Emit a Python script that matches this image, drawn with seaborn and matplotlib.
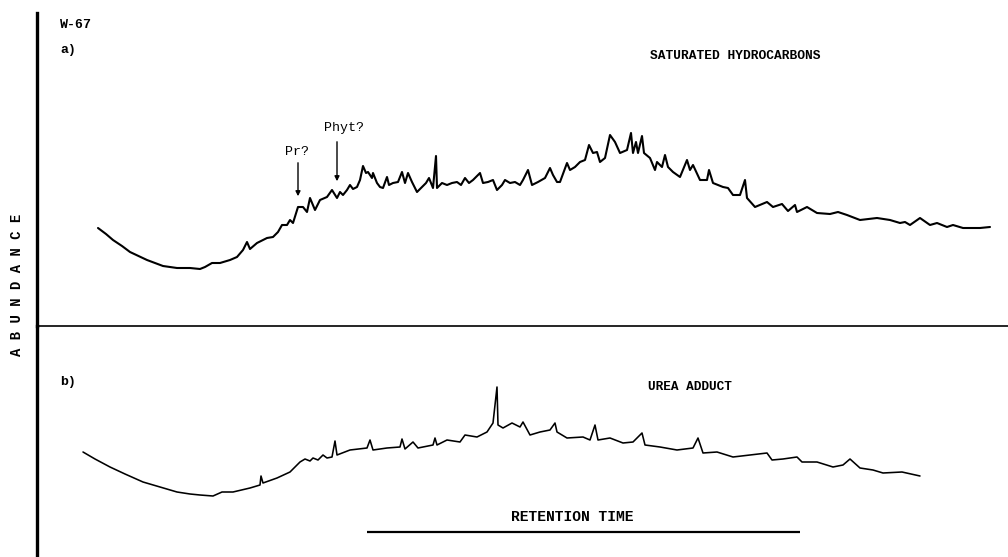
import matplotlib
matplotlib.use("Agg")
import matplotlib.pyplot as plt
import seaborn as sns
import pandas as pd

# ---- data (retention and abundance in arbitrary units)
ret_a = [98, 106, 113, 122, 130, 147, 163, 177, 190, 200, 205, 212, 220, 230, 237, 243, 247, 250, 257, 267,
         273, 278, 282, 287, 290, 293, 298, 303, 307, 310, 315, 320, 327, 332, 337, 340, 343, 347, 350, 353,
         357, 360, 363, 366, 368, 372, 373, 377, 380, 383, 387, 389, 393, 398, 402, 405, 408, 412, 417, 422,
         426, 429, 433, 436, 437, 442, 447, 452, 457, 461, 465, 469, 473, 480, 483, 488, 493, 497, 502, 505,
         510, 515, 520, 523, 528, 532, 538, 545, 550, 553, 557, 560, 567, 570, 575, 580, 585, 589, 593, 597,
         600, 605, 610, 615, 620, 627, 631, 633, 636, 638, 642, 644, 650, 655, 657, 662, 665, 668, 673, 680,
         687, 690, 693, 700, 707, 709, 713, 718, 723, 728, 733, 740, 745, 747, 755, 767, 773, 782, 788, 795,
         797, 807, 817, 830, 838, 847, 860, 877, 890, 900, 905, 910, 920, 930, 937, 947, 953, 963, 980, 990]
abund_a = [98, 92, 86, 80, 74, 66, 60, 58, 58, 57, 59, 63, 63, 66, 69, 76, 84, 77, 83, 88,
           89, 94, 101, 101, 106, 103, 119, 119, 114, 128, 116, 126, 129, 136, 128, 134, 131, 136, 141, 137,
           139, 146, 160, 153, 154, 148, 153, 143, 139, 138, 149, 141, 143, 144, 154, 143, 153, 144, 134, 139,
           143, 148, 138, 170, 138, 143, 141, 143, 144, 141, 148, 143, 146, 153, 143, 144, 146, 136, 141, 146,
           143, 144, 141, 146, 156, 141, 144, 148, 158, 151, 144, 144, 163, 156, 159, 164, 166, 181, 173, 174,
           164, 168, 191, 184, 173, 176, 193, 173, 184, 173, 190, 173, 168, 156, 164, 159, 171, 159, 154, 149,
           166, 156, 161, 146, 146, 156, 143, 141, 139, 138, 131, 131, 146, 128, 119, 124, 119, 122, 115, 121,
           114, 119, 113, 112, 114, 111, 106, 108, 106, 103, 104, 101, 108, 101, 103, 99, 101, 98, 98, 99]

ret_b = [83, 95, 110, 125, 143, 160, 177, 190, 200, 213, 222, 233, 250, 260, 261, 263, 277, 290, 300, 305,
         310, 313, 318, 323, 327, 332, 335, 337, 350, 367, 370, 373, 387, 400, 402, 405, 413, 418, 433, 435,
         437, 447, 460, 465, 477, 487, 493, 497, 498, 503, 512, 520, 523, 530, 540, 550, 555, 557, 567, 583,
         590, 595, 598, 610, 623, 633, 642, 645, 660, 677, 693, 698, 703, 717, 733, 750, 767, 772, 783, 797,
         802, 817, 833, 843, 850, 860, 873, 883, 902, 920]
abund_b = [105, 98, 90, 83, 75, 70, 65, 63, 62, 61, 65, 65, 69, 72, 81, 74, 79, 85, 95, 98,
           96, 99, 97, 102, 99, 100, 116, 102, 107, 109, 117, 107, 109, 110, 118, 108, 115, 109, 112, 119,
           112, 117, 115, 122, 120, 125, 134, 170, 132, 129, 134, 130, 135, 122, 125, 127, 134, 125, 119, 120,
           117, 132, 117, 119, 114, 115, 124, 112, 110, 107, 109, 119, 104, 105, 100, 102, 104, 97, 98, 100,
           95, 95, 90, 92, 98, 89, 87, 84, 85, 81]

panel_labels = ["a)", "b)"]
panel_titles = ["SATURATED HYDROCARBONS", "UREA ADDUCT"]
sample_id = "W-67"
peak_labels = ["Pr?", "Phyt?"]
peak_ret = [298, 337]

# ---- styling
sns.set_theme(style="white")
plt.rcParams["font.family"] = ["Liberation Mono", "DejaVu Sans Mono"]
plt.rcParams["text.color"] = "black"

W, H = 1008, 557
fig = plt.figure(figsize=(W / 100, H / 100), dpi=100)
left = 37 / W
ax_a = fig.add_axes([left, (H - 326) / H, 1 - left, 313 / H])
ax_b = fig.add_axes([left, 0, 1 - left, (H - 326) / H])

df_a = pd.DataFrame({"retention": ret_a, "abundance": abund_a})
df_b = pd.DataFrame({"retention": ret_b, "abundance": abund_b})
sns.lineplot(data=df_a, x="retention", y="abundance", ax=ax_a, color="black", lw=1.5,
             estimator=None, sort=False)
sns.lineplot(data=df_b, x="retention", y="abundance", ax=ax_b, color="black", lw=1.15,
             estimator=None, sort=False)

for ax, top in ((ax_a, 313), (ax_b, H - 326)):
    ax.set_xlim(37, W)
    ax.set_ylim(0, top)
    ax.set_xticks([])
    ax.set_yticks([])
    ax.set_xlabel("")
    ax.set_ylabel("")
    for s in ("top", "right", "bottom"):
        ax.spines[s].set_visible(False)
    ax.spines["left"].set_color("black")
    ax.spines["left"].set_linewidth(2.4)
    ax.patch.set_alpha(0)

ax_a.spines["bottom"].set_visible(True)
ax_a.spines["bottom"].set_color("black")
ax_a.spines["bottom"].set_linewidth(1.2)

# peak arrows (panel a)
ax_a.annotate("", xy=(peak_ret[0], 326 - 199), xytext=(peak_ret[0], 326 - 160),
              arrowprops=dict(arrowstyle="-|>", color="black", lw=1.0, mutation_scale=7))
ax_a.annotate("", xy=(peak_ret[1], 326 - 184), xytext=(peak_ret[1], 326 - 139),
              arrowprops=dict(arrowstyle="-|>", color="black", lw=1.0, mutation_scale=7))
ax_a.text(297, 326 - 152, peak_labels[0], ha="center", va="center", fontsize=9.5)
ax_a.text(344, 326 - 128, peak_labels[1], ha="center", va="center", fontsize=9.5)

# retention time bar
ax_b.hlines(557 - 532, 367, 800, color="black", lw=1.6)


def ftxt(x, y, s, **kw):
    fig.text(x / W, 1 - y / H, s, **kw)


ftxt(60, 25, sample_id, ha="left", va="center", fontsize=9.5, fontweight="bold")
ftxt(60, 50, panel_labels[0], ha="left", va="center", fontsize=9.5, fontweight="bold")
ftxt(60, 382, panel_labels[1], ha="left", va="center", fontsize=9.5, fontweight="bold")
ftxt(735, 56, panel_titles[0], ha="center", va="center", fontsize=9.3, fontweight="bold")
ftxt(690, 387, panel_titles[1], ha="center", va="center", fontsize=9.2, fontweight="bold")
ftxt(572, 517, "RETENTION TIME", ha="center", va="center", fontsize=10.5, fontweight="bold")
ftxt(17, 285, "A B U N D A N C E", ha="center", va="center", rotation=90,
     fontsize=10, fontweight="bold")

fig.savefig("out.png", dpi=100)
